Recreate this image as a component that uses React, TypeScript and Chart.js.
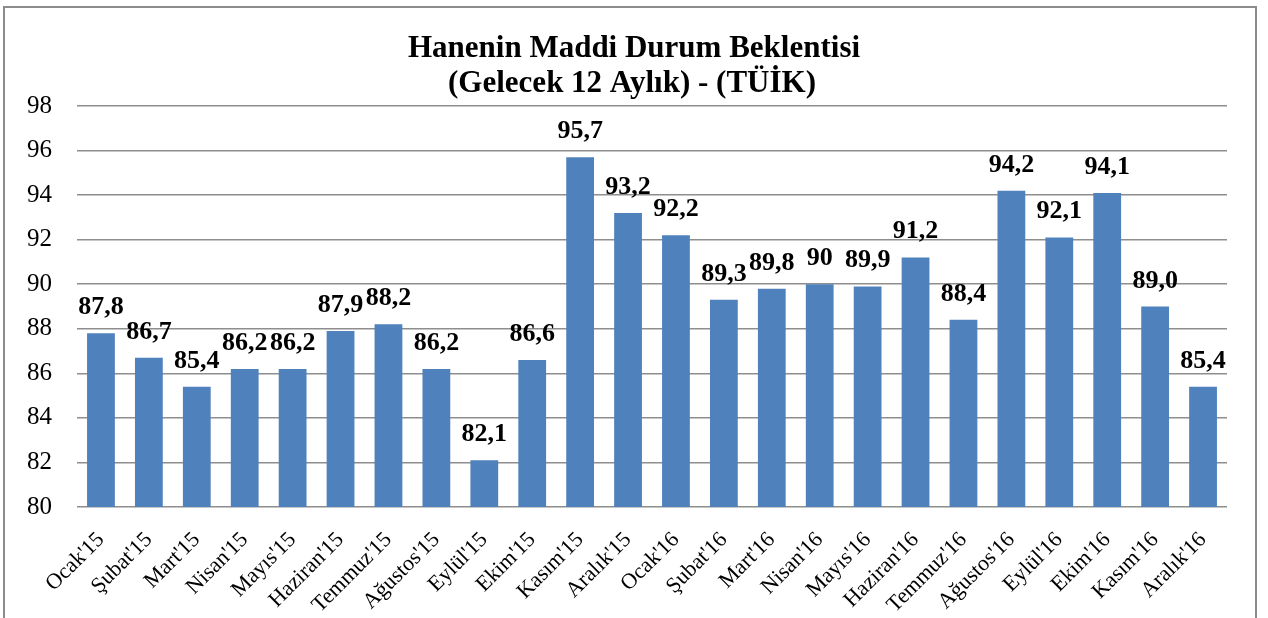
import React, { useEffect, useRef } from "react";
import { Chart, registerables } from "chart.js";

Chart.register(...registerables);

const categories = [
  "Ocak'15", "Şubat'15", "Mart'15", "Nisan'15", "Mayıs'15", "Haziran'15",
  "Temmuz'15", "Ağustos'15", "Eylül'15", "Ekim'15", "Kasım'15", "Aralık'15",
  "Ocak'16", "Şubat'16", "Mart'16", "Nisan'16", "Mayıs'16", "Haziran'16",
  "Temmuz'16", "Ağustos'16", "Eylül'16", "Ekim'16", "Kasım'16", "Aralık'16",
];

const values = [
  87.8, 86.7, 85.4, 86.2, 86.2, 87.9, 88.2, 86.2, 82.1, 86.6, 95.7, 93.2,
  92.2, 89.3, 89.8, 90.0, 89.9, 91.2, 88.4, 94.2, 92.1, 94.1, 89.0, 85.4,
];

const valueLabels = [
  "87,8", "86,7", "85,4", "86,2", "86,2", "87,9", "88,2", "86,2", "82,1", "86,6", "95,7", "93,2",
  "92,2", "89,3", "89,8", "90", "89,9", "91,2", "88,4", "94,2", "92,1", "94,1", "89,0", "85,4",
];

const titleLines = ["Hanenin Maddi Durum Beklentisi", "(Gelecek 12 Aylık) - (TÜİK)"];

const yMin = 80;
const yMax = 98;
const yStep = 2;

const FONT = "'Liberation Serif', 'DejaVu Serif', serif";
const BAR_COLOR = "#4F81BD";
const GRID_COLOR = "#8e8e8e";

export default function App() {
  const canvasRef = useRef<HTMLCanvasElement | null>(null);

  useEffect(() => {
    const canvas = canvasRef.current;
    if (!canvas) return;

    const overlayPlugin = {
      id: "overlayText",
      afterDatasetsDraw(chart: any) {
        const ctx = chart.ctx;
        const meta = chart.getDatasetMeta(0);
        ctx.save();
        ctx.fillStyle = "#000";
        ctx.font = `bold 26px ${FONT}`;
        ctx.textAlign = "center";
        ctx.textBaseline = "alphabetic";
        meta.data.forEach((el: any, i: number) => {
          ctx.fillText(valueLabels[i], el.x, el.y - 19);
        });
        ctx.restore();
      },
      afterDraw(chart: any) {
        const ctx = chart.ctx;
        ctx.save();
        ctx.fillStyle = "#000";
        ctx.font = `bold 31px ${FONT}`;
        ctx.textAlign = "center";
        ctx.textBaseline = "alphabetic";
        ctx.fillText(titleLines[0], 634, 57);
        ctx.fillText(titleLines[1], 632, 92);
        ctx.restore();
      },
    };

    const chart = new Chart(canvas, {
      type: "bar",
      data: {
        labels: categories,
        datasets: [
          {
            data: values,
            backgroundColor: BAR_COLOR,
            borderWidth: 0,
            barPercentage: 0.58,
            categoryPercentage: 1,
          },
        ],
      },
      options: {
        responsive: false,
        animation: false,
        layout: { padding: { left: 0, top: 106, right: 41, bottom: 0 } },
        plugins: {
          legend: { display: false },
          title: { display: false },
          tooltip: { enabled: false },
        },
        scales: {
          x: {
            offset: true,
            grid: { display: false },
            border: { display: false },
            ticks: {
              autoSkip: false,
              maxRotation: 45,
              minRotation: 45,
              padding: 12,
              color: "#000",
              font: { family: FONT, size: 22 },
            },
            afterFit(scale: any) {
              scale.height = 111;
              scale.paddingLeft = 0;
              scale.paddingRight = 0;
            },
          },
          y: {
            min: yMin,
            max: yMax,
            border: { display: false },
            grid: {
              color: GRID_COLOR,
              lineWidth: 1.5,
              drawTicks: false,
            },
            ticks: {
              stepSize: yStep,
              padding: 25,
              color: "#000",
              font: { family: FONT, size: 25 },
            },
            afterFit(scale: any) {
              scale.width = 77;
              scale.paddingTop = 0;
              scale.paddingBottom = 0;
            },
          },
        },
      },
      plugins: [overlayPlugin],
    });

    return () => chart.destroy();
  }, []);

  return (
    <div
      style={{
        position: "fixed",
        left: 0,
        top: 0,
        width: 1268,
        height: 618,
        overflow: "hidden",
        background: "#fff",
      }}
    >
      <div
        style={{
          position: "absolute",
          left: 3,
          top: 6,
          width: 1254,
          height: 640,
          border: "2px solid #8c8c8c",
          boxSizing: "border-box",
        }}
      />
      <canvas
        ref={canvasRef}
        width={1268}
        height={618}
        style={{ position: "absolute", left: 0, top: 0 }}
      />
    </div>
  );
}
